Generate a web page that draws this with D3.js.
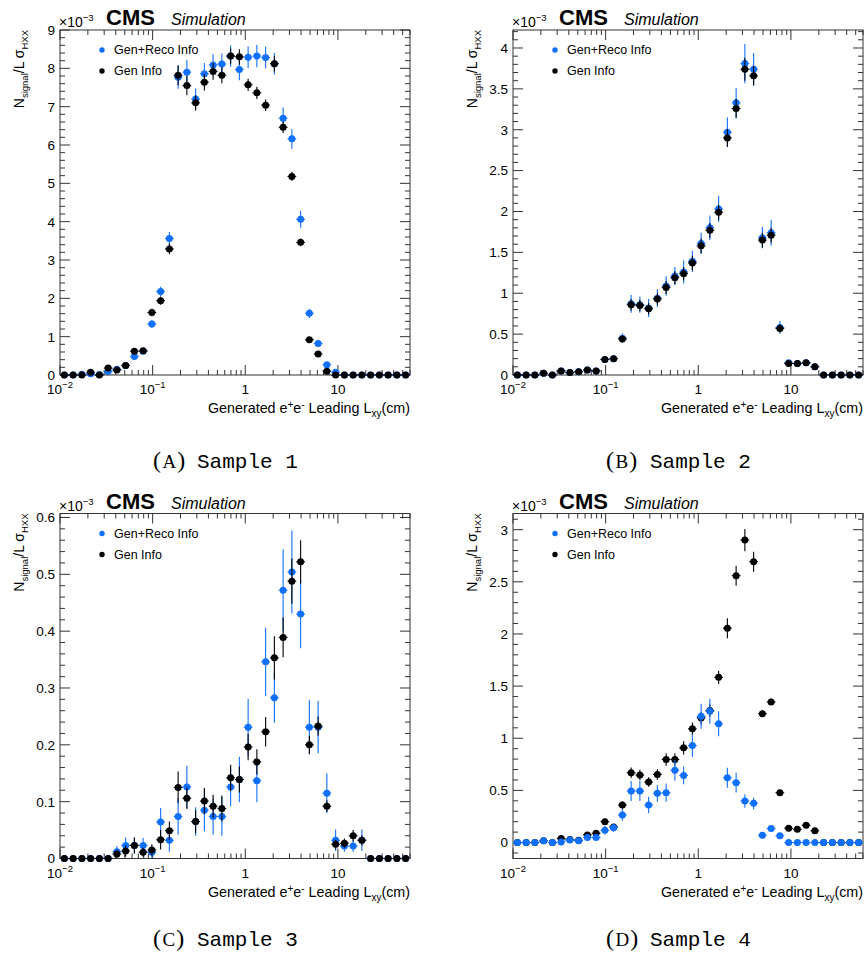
<!DOCTYPE html>
<html>
<head>
<meta charset="utf-8">
<script src="https://cdn.jsdelivr.net/npm/d3@7"></script>
<style>
  body { margin: 0; background: #fff; }
  svg { display: block; }
  text { font-family: "Liberation Sans", Arial, Helvetica, sans-serif; fill: #000; }
</style>
</head>
<body>
<script>
const WIDTH = 865, HEIGHT = 961;
const PLOT_W = 350, PLOT_H = 345;
const BLUE = "#0f6fff";
const AXIS_COLOR = "#333";

// histogram binning: 40 log-spaced bins from 0.01 to 60 cm
const X_MIN = 0.01, X_MAX = 60, N_BINS = 40;
const binEdges = d3.range(N_BINS + 1).map((i) => X_MIN * Math.pow(X_MAX / X_MIN, i / N_BINS));

const xMajorTicks = [0.01, 0.1, 1, 10];
const xTickLabels = [["10", "\u22122"], ["10", "\u22121"], ["1", ""], ["10", ""]];

const legendLabels = ["Gen+Reco Info", "Gen Info"];
const captionLetters = ["A", "B", "C", "D"];
const captionTexts = ["Sample 1", "Sample 2", "Sample 3", "Sample 4"];

// values in units of 1e-3
const sample1Reco = [0, 0, 0.02, 0.03, 0.01, 0.09, 0.15, 0.25, 0.48, 0.62, 1.33, 2.18, 3.56, 7.77, 7.90, 7.20, 7.86, 8.09, 8.11, 8.32, 7.97, 8.29, 8.32, 8.28, 8.12, 6.70, 6.16, 4.06, 1.61, 0.82, 0.27, 0.07, 0, 0, 0, 0, 0, 0, 0, 0];
const sample1RecoErr = [0, 0, 0.02, 0.02, 0.01, 0.04, 0.04, 0.05, 0.06, 0.07, 0.10, 0.12, 0.17, 0.30, 0.32, 0.27, 0.28, 0.28, 0.28, 0.28, 0.28, 0.28, 0.29, 0.28, 0.28, 0.28, 0.26, 0.22, 0.12, 0.07, 0.04, 0.02, 0, 0, 0, 0, 0, 0, 0, 0];
const sample1Gen = [0, 0, 0, 0.07, 0, 0.18, 0.13, 0.25, 0.62, 0.63, 1.63, 1.94, 3.29, 7.82, 7.55, 7.10, 7.64, 7.92, 7.82, 8.32, 8.30, 7.57, 7.36, 7.04, 8.12, 6.46, 5.18, 3.46, 0.92, 0.55, 0.10, 0, 0, 0, 0, 0, 0, 0, 0, 0];
const sample1GenErr = [0, 0, 0, 0.02, 0, 0.03, 0.03, 0.04, 0.06, 0.06, 0.10, 0.11, 0.14, 0.26, 0.25, 0.20, 0.22, 0.22, 0.21, 0.20, 0.20, 0.16, 0.16, 0.15, 0.20, 0.15, 0.12, 0.10, 0.06, 0.05, 0.02, 0, 0, 0, 0, 0, 0, 0, 0, 0];

const sample2Reco = [0, 0, 0, 0.02, 0, 0.05, 0.03, 0.04, 0.06, 0.05, 0.19, 0.20, 0.45, 0.87, 0.86, 0.82, 0.94, 1.09, 1.21, 1.26, 1.39, 1.61, 1.80, 2.03, 2.97, 3.33, 3.81, 3.74, 1.68, 1.74, 0.58, 0.15, 0.14, 0.15, 0.10, 0, 0, 0, 0, 0];
const sample2RecoErr = [0, 0, 0, 0.02, 0, 0.03, 0.02, 0.02, 0.03, 0.03, 0.04, 0.04, 0.06, 0.11, 0.10, 0.11, 0.11, 0.12, 0.11, 0.14, 0.13, 0.13, 0.15, 0.16, 0.18, 0.18, 0.24, 0.20, 0.13, 0.16, 0.08, 0.03, 0.03, 0.03, 0.03, 0, 0, 0, 0, 0];
const sample2Gen = [0, 0, 0, 0.02, 0, 0.05, 0.03, 0.04, 0.06, 0.05, 0.19, 0.20, 0.44, 0.86, 0.85, 0.81, 0.93, 1.07, 1.19, 1.24, 1.37, 1.58, 1.77, 1.99, 2.90, 3.26, 3.74, 3.66, 1.65, 1.71, 0.57, 0.14, 0.14, 0.15, 0.10, 0, 0, 0, 0, 0];
const sample2GenErr = [0, 0, 0, 0.01, 0, 0.02, 0.01, 0.02, 0.02, 0.02, 0.03, 0.03, 0.04, 0.07, 0.07, 0.07, 0.07, 0.08, 0.08, 0.08, 0.09, 0.09, 0.09, 0.09, 0.11, 0.12, 0.14, 0.12, 0.09, 0.09, 0.05, 0.02, 0.02, 0.02, 0.02, 0, 0, 0, 0, 0];

const sample3Reco = [0, 0, 0, 0, 0, 0, 0.012, 0.023, 0.023, 0.023, 0.011, 0.064, 0.032, 0.074, 0.126, 0.065, 0.085, 0.074, 0.074, 0.126, 0.139, 0.231, 0.137, 0.346, 0.283, 0.472, 0.504, 0.430, 0.231, 0.231, 0.115, 0.032, 0.022, 0.022, 0.032, 0, 0, 0, 0, 0];
const sample3RecoErr = [0, 0, 0, 0, 0, 0, 0.010, 0.014, 0.014, 0.013, 0.010, 0.025, 0.020, 0.032, 0.037, 0.025, 0.037, 0.032, 0.034, 0.034, 0.040, 0.050, 0.038, 0.060, 0.044, 0.072, 0.073, 0.060, 0.048, 0.046, 0.035, 0.019, 0.010, 0.010, 0.019, 0, 0, 0, 0, 0];
const sample3Gen = [0, 0, 0, 0, 0, 0, 0.008, 0.013, 0.023, 0.011, 0.015, 0.033, 0.049, 0.125, 0.106, 0.065, 0.101, 0.092, 0.088, 0.142, 0.139, 0.196, 0.170, 0.223, 0.353, 0.389, 0.488, 0.522, 0.200, 0.233, 0.092, 0.025, 0.027, 0.040, 0.032, 0, 0, 0, 0, 0];
const sample3GenErr = [0, 0, 0, 0, 0, 0, 0.007, 0.010, 0.014, 0.008, 0.010, 0.017, 0.016, 0.028, 0.019, 0.020, 0.023, 0.020, 0.023, 0.023, 0.023, 0.023, 0.022, 0.026, 0.038, 0.035, 0.040, 0.038, 0.016, 0.017, 0.010, 0.008, 0.008, 0.010, 0.009, 0, 0, 0, 0, 0];

const sample4Reco = [0, 0, 0, 0.016, 0, 0.006, 0.025, 0.016, 0.048, 0.048, 0.118, 0.143, 0.265, 0.494, 0.494, 0.360, 0.472, 0.478, 0.692, 0.644, 0.930, 1.210, 1.259, 1.138, 0.621, 0.574, 0.398, 0.376, 0.070, 0.134, 0.064, 0, 0, 0, 0, 0, 0, 0, 0, 0];
const sample4RecoErr = [0, 0, 0, 0.015, 0, 0.010, 0.015, 0.015, 0.020, 0.020, 0.040, 0.040, 0.056, 0.095, 0.095, 0.080, 0.080, 0.088, 0.100, 0.085, 0.110, 0.120, 0.120, 0.120, 0.095, 0.095, 0.064, 0.056, 0.020, 0.025, 0.020, 0, 0, 0, 0, 0, 0, 0, 0, 0];
const sample4Gen = [0, 0, 0, 0.016, 0, 0.038, 0.028, 0.022, 0.073, 0.090, 0.200, 0.150, 0.360, 0.669, 0.647, 0.580, 0.653, 0.797, 0.797, 0.908, 1.090, 1.195, 1.265, 1.584, 2.055, 2.559, 2.900, 2.693, 1.236, 1.348, 0.478, 0.137, 0.127, 0.166, 0.112, 0, 0, 0, 0, 0];
const sample4GenErr = [0, 0, 0, 0.010, 0, 0.015, 0.012, 0.010, 0.020, 0.020, 0.030, 0.025, 0.035, 0.050, 0.050, 0.045, 0.050, 0.060, 0.060, 0.064, 0.060, 0.060, 0.060, 0.064, 0.096, 0.096, 0.107, 0.096, 0.030, 0.030, 0.020, 0.015, 0.015, 0.015, 0.015, 0, 0, 0, 0, 0];

const sample1YTicks = [0, 1, 2, 3, 4, 5, 6, 7, 8, 9];
const sample2YTicks = [0, 0.5, 1, 1.5, 2, 2.5, 3, 3.5, 4];
const sample3YTicks = [0, 0.1, 0.2, 0.3, 0.4, 0.5, 0.6];
const sample4YTicks = [0, 0.5, 1, 1.5, 2, 2.5, 3];

const panels = [
  { left: 60, top: 30, yDomain: [0, 9], yTicks: sample1YTicks, yMinor: 0.2,
    reco: sample1Reco, recoErr: sample1RecoErr, gen: sample1Gen, genErr: sample1GenErr, genOnTop: true },
  { left: 513, top: 30, yDomain: [0, 4.22], yTicks: sample2YTicks, yMinor: 0.1,
    reco: sample2Reco, recoErr: sample2RecoErr, gen: sample2Gen, genErr: sample2GenErr, genOnTop: true },
  { left: 60, top: 513.5, yDomain: [0, 0.607], yTicks: sample3YTicks, yMinor: 0.02,
    reco: sample3Reco, recoErr: sample3RecoErr, gen: sample3Gen, genErr: sample3GenErr, genOnTop: true },
  { left: 513, top: 513.5, yDomain: [-0.153, 3.155], yTicks: sample4YTicks, yMinor: 0.1,
    reco: sample4Reco, recoErr: sample4RecoErr, gen: sample4Gen, genErr: sample4GenErr, genOnTop: false },
];

const svg = d3.select("body").append("svg")
  .attr("width", WIDTH)
  .attr("height", HEIGHT);

svg.append("rect").attr("width", WIDTH).attr("height", HEIGHT).attr("fill", "#fff");

function fmt(v) {
  return String(+v.toFixed(3));
}

function drawSeries(g, x, y, values, errs, color) {
  const s = g.append("g").attr("class", "series");
  values.forEach((v, i) => {
    const lo = binEdges[i], hi = binEdges[i + 1];
    const cx = x(Math.sqrt(lo * hi));
    s.append("line")
      .attr("x1", x(lo)).attr("x2", x(hi))
      .attr("y1", y(v)).attr("y2", y(v))
      .attr("stroke", color).attr("stroke-width", 1.1);
    if (errs[i] > 0) {
      s.append("line")
        .attr("x1", cx).attr("x2", cx)
        .attr("y1", y(v - errs[i])).attr("y2", y(v + errs[i]))
        .attr("stroke", color).attr("stroke-width", 1.1);
    }
  });
  s.selectAll("circle")
    .data(values)
    .join("circle")
    .attr("cx", (d, i) => x(Math.sqrt(binEdges[i] * binEdges[i + 1])))
    .attr("cy", (d) => y(d))
    .attr("r", 3.5)
    .attr("fill", color);
}

function drawPanel(p, idx) {
  const x0 = p.left, y0 = p.top, x1 = p.left + PLOT_W, y1 = p.top + PLOT_H;
  const x = d3.scaleLog().domain([X_MIN, X_MAX]).range([x0, x1]);
  const y = d3.scaleLinear().domain(p.yDomain).range([y1, y0]);
  const g = svg.append("g").attr("class", "panel");

  // x ticks, bottom and top, pointing inward
  const xMinor = [];
  xMajorTicks.forEach((d) => {
    for (let k = 2; k <= 9; k++) if (d * k <= X_MAX) xMinor.push(d * k);
  });
  const ticks = g.append("g").attr("stroke", AXIS_COLOR).attr("stroke-width", 1);
  [[xMajorTicks, 10], [xMinor, 5]].forEach(([vals, len]) => {
    vals.forEach((v) => {
      ticks.append("line").attr("x1", x(v)).attr("x2", x(v)).attr("y1", y1).attr("y2", y1 - len);
      ticks.append("line").attr("x1", x(v)).attr("x2", x(v)).attr("y1", y0).attr("y2", y0 + len);
    });
  });

  // y ticks, left and right
  const [yLo, yHi] = p.yDomain;
  const minor = d3.range(Math.ceil(yLo / p.yMinor - 1e-6) * p.yMinor, yHi + 1e-9, p.yMinor);
  minor.forEach((v) => {
    const isMajor = p.yTicks.some((t) => Math.abs(t - v) < 1e-6);
    const len = isMajor ? 10 : 5;
    ticks.append("line").attr("x1", x0).attr("x2", x0 + len).attr("y1", y(v)).attr("y2", y(v));
    ticks.append("line").attr("x1", x1).attr("x2", x1 - len).attr("y1", y(v)).attr("y2", y(v));
  });

  // frame
  g.append("rect")
    .attr("x", x0).attr("y", y0).attr("width", PLOT_W).attr("height", PLOT_H)
    .attr("fill", "none").attr("stroke", AXIS_COLOR).attr("stroke-width", 1);

  // y tick labels
  g.append("g").selectAll("text")
    .data(p.yTicks)
    .join("text")
    .attr("x", x0 - 5)
    .attr("y", (d) => y(d))
    .attr("dy", "0.36em")
    .attr("text-anchor", "end")
    .attr("font-size", 13.5)
    .text((d) => fmt(d));

  // x tick labels with superscript exponents
  xMajorTicks.forEach((v, i) => {
    const t = g.append("text")
      .attr("x", x(v)).attr("y", y1 + 19)
      .attr("text-anchor", "middle")
      .attr("font-size", 13.5);
    t.append("tspan").text(xTickLabels[i][0]);
    if (xTickLabels[i][1]) {
      t.append("tspan").attr("font-size", 9.5).attr("dy", -6).text(xTickLabels[i][1]);
    }
  });

  // x title
  const xt = g.append("text")
    .attr("x", x1).attr("y", y1 + 38)
    .attr("text-anchor", "end")
    .attr("font-size", 14.3);
  xt.append("tspan").text("Generated e");
  xt.append("tspan").attr("font-size", 10).attr("dy", -5).text("+");
  xt.append("tspan").attr("dy", 5).text("e");
  xt.append("tspan").attr("font-size", 10).attr("dy", -5).text("-");
  xt.append("tspan").attr("dy", 5).text(" Leading L");
  xt.append("tspan").attr("font-size", 10).attr("dy", 4).text("xy");
  xt.append("tspan").attr("dy", -4).text("(cm)");

  // y title
  const yt = g.append("text")
    .attr("transform", `translate(${x0 - 36},${y0}) rotate(-90)`)
    .attr("text-anchor", "end")
    .attr("font-size", 14);
  yt.append("tspan").text("N");
  yt.append("tspan").attr("font-size", 9.5).attr("dy", 4).text("signal");
  yt.append("tspan").attr("dy", -4).text("/L \u03c3");
  yt.append("tspan").attr("font-size", 9.5).attr("dy", 4).text("HXX");

  // exponent factor
  const ex = g.append("text")
    .attr("x", x0 - 1).attr("y", y0 - 3)
    .attr("font-size", 14);
  ex.append("tspan").text("\u00d710");
  ex.append("tspan").attr("font-size", 9.5).attr("dy", -6).text("\u22123");

  // CMS label
  g.append("text")
    .attr("x", x0 + 46).attr("y", y0 - 5)
    .attr("font-size", 22).attr("font-weight", "bold")
    .text("CMS");
  g.append("text")
    .attr("x", x0 + 111).attr("y", y0 - 5)
    .attr("font-size", 16).attr("font-style", "italic")
    .text("Simulation");

  // legend
  const legend = g.append("g").attr("transform", `translate(${x0 + 42},${y0 + 20})`);
  [BLUE, "#000"].forEach((c, i) => {
    legend.append("circle").attr("cx", 0).attr("cy", i * 21).attr("r", 2.7).attr("fill", c);
    legend.append("text")
      .attr("x", 12).attr("y", i * 21 + 4)
      .attr("font-size", 12.5)
      .text(legendLabels[i]);
  });

  // data
  const plot = g.append("g");
  if (p.genOnTop) {
    drawSeries(plot, x, y, p.reco, p.recoErr, BLUE);
    drawSeries(plot, x, y, p.gen, p.genErr, "#000");
  } else {
    drawSeries(plot, x, y, p.gen, p.genErr, "#000");
    drawSeries(plot, x, y, p.reco, p.recoErr, BLUE);
  }

  // caption
  const capY = idx < 2 ? 468 : 946;
  const cap = g.append("text").attr("x", x0 + 93).attr("y", capY);
  cap.append("tspan").attr("font-family", "'Liberation Serif', serif").attr("font-size", 24).text("(");
  cap.append("tspan").attr("font-family", "'Liberation Serif', serif").attr("font-size", 19).attr("dx", 1.5).text(captionLetters[idx]);
  cap.append("tspan").attr("font-family", "'Liberation Serif', serif").attr("font-size", 24).attr("dx", 1).text(")");
  cap.append("tspan")
    .attr("x", x0 + 137)
    .attr("font-family", "'Liberation Mono', monospace")
    .attr("font-size", 21)
    .text(captionTexts[idx]);
}

panels.forEach(drawPanel);
</script>
</body>
</html>
